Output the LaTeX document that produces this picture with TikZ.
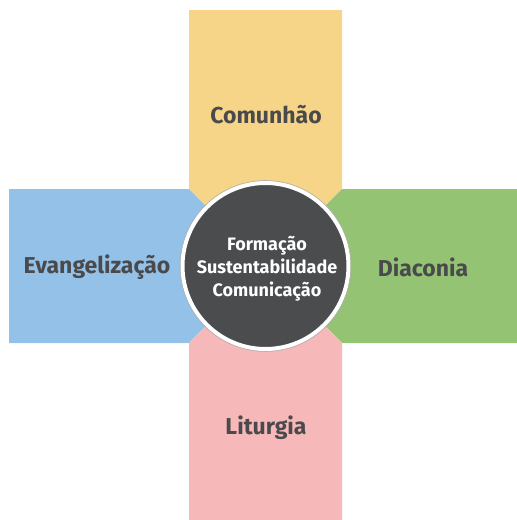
\documentclass[tikz,border=0pt]{standalone}
\usepackage{fontspec}
\setmainfont{Fira Sans}
\usetikzlibrary{positioning}
\usetikzlibrary{calc}

\definecolor{armyellow}{HTML}{F6D488}
\definecolor{armblue}{HTML}{94C1E8}
\definecolor{armgreen}{HTML}{94C473}
\definecolor{armpink}{HTML}{F7B8B9}
\definecolor{darkcore}{HTML}{4B4C4E}
\definecolor{labelgray}{HTML}{4A4A4C}

\tikzset{
  armlabel/.style={text=labelgray, font=\fontsize{23}{25}\selectfont\bfseries},
  corelabel/.style={text=white, align=center, font=\fontsize{18}{23}\selectfont\bfseries}
}

\begin{document}
\begin{tikzpicture}[x=1pt, y=-1pt]
                  \useasboundingbox (0,0) rectangle (517,520);
                  \coordinate (c) at (265.5,266);
                  \fill[armyellow] (189,10) -- (342,10) -- (342,189) -- (c) -- (189,189) -- cycle;
                  \fill[armblue] (9,189) -- (189,189) -- (c) -- (189,343) -- (9,343) -- cycle;
                  \fill[armgreen] (342,189) -- (517,189) -- (517,343) -- (342,343) -- (c) -- cycle;
                  \fill[armpink] (c) -- (342,343) -- (342,520) -- (189,520) -- (189,343) -- cycle;

                  \node[circle, fill=darkcore, draw=white, line width=4pt, minimum size=166pt] (core) at (c) {};
                  \draw[gray!60, line width=0.6pt] (c) circle (85.5pt);
                  \node[corelabel] (topics) at (267,269) {Formação\\Sustentabilidade\\Comunicação};

                  \node[armlabel] (comunhao) at (266,115) {Comunhão};
                  \node[armlabel] (evangelizacao) at (97,267) {Evangelização};
                  \node[armlabel] (diaconia) at (423,267) {Diaconia};
                  \node[armlabel] (liturgia) at (266,428) {Liturgia};
              \end{tikzpicture}
\end{document}
